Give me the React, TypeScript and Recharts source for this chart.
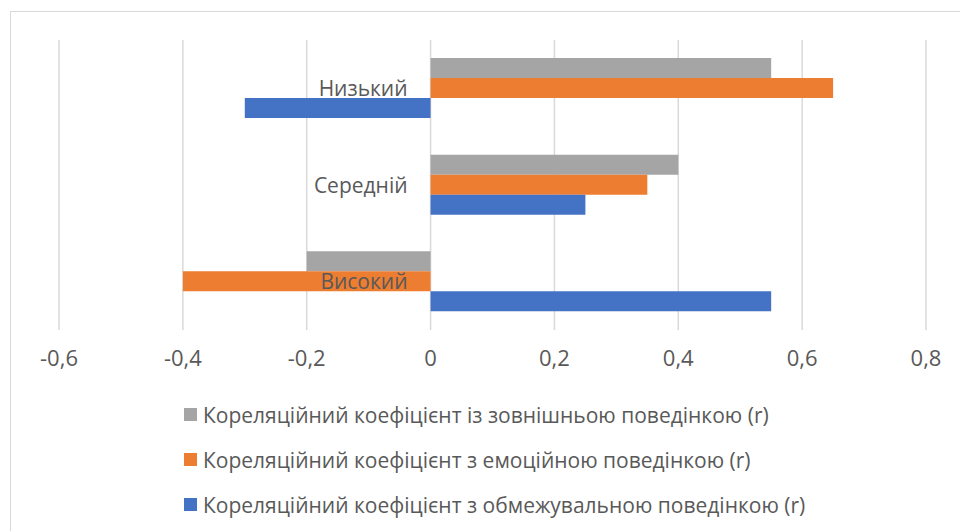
import React from 'react';
import { BarChart, Bar, XAxis, YAxis, CartesianGrid, Legend } from 'recharts';

const categories = ['Низький', 'Середній', 'Високий'];
const externalValues = [0.55, 0.4, -0.2];
const emotionalValues = [0.65, 0.35, -0.4];
const restrainedValues = [-0.3, 0.25, 0.55];
const xTicks = [-0.6, -0.4, -0.2, 0, 0.2, 0.4, 0.6, 0.8];

const seriesNames = [
  'Кореляційний коефіцієнт із зовнішньою поведінкою (r)',
  'Кореляційний коефіцієнт з емоційною поведінкою (r)',
  'Кореляційний коефіцієнт з обмежувальною поведінкою (r)',
];
const seriesKeys = ['external', 'emotional', 'restrained'];
const seriesColors = ['#a5a5a5', '#ed7d31', '#4472c4'];

const data = categories.map((c, i) => ({
  name: c,
  external: externalValues[i],
  emotional: emotionalValues[i],
  restrained: restrainedValues[i],
}));

const W = 960;
const H = 531;
const M = { top: 40, right: 34, bottom: 161, left: 58 };
const XMIN = -0.6;
const XMAX = 0.8;
const FONT = 'Open Sans, sans-serif';
const TEXT = '#595959';

const plotW = W - M.left - M.right - 1;
const zeroX = M.left + 1 + ((0 - XMIN) / (XMAX - XMIN)) * plotW;

const fmt = (v: number) => (v === 0 ? '0' : v.toFixed(1).replace('.', ','));

const renderCategoryTick = (props: any) => {
  const { y, payload } = props;
  return (
    <text x={zeroX - 23} y={y} dy="0.36em" textAnchor="end" fill={TEXT} fontSize={21} fontFamily={FONT}>
      {payload.value}
    </text>
  );
};

const LegendContent = () => (
  <div style={{ fontFamily: FONT, fontSize: 21, color: TEXT, whiteSpace: 'nowrap' }}>
    {seriesNames.map((n, i) => (
      <div key={n} style={{ display: 'flex', alignItems: 'center', height: 45 }}>
        <span style={{ display: 'inline-block', width: 13, height: 13, background: seriesColors[i], marginRight: 6 }} />
        <span>{n}</span>
      </div>
    ))}
  </div>
);

export default function App() {
  return (
    <div style={{ position: 'absolute', left: 0, top: 0, width: W, height: H, background: '#fff', overflow: 'hidden' }}>
      <div style={{ position: 'absolute', left: 10, top: 11, width: 980, height: 560, border: '1.5px solid #d9d9d9' }} />
      <BarChart
        width={W}
        height={H}
        data={data}
        layout="vertical"
        margin={M}
        barSize={20}
        barGap={0}
      >
        <CartesianGrid horizontal={false} stroke="#d9d9d9" strokeWidth={1.5} />
        <XAxis
          type="number"
          domain={[XMIN, XMAX]}
          ticks={xTicks}
          tickFormatter={fmt}
          axisLine={false}
          tickLine={false}
          height={40}
          tickMargin={14}
          tick={{ fill: TEXT, fontSize: 22, fontFamily: FONT }}
          interval={0}
        />
        <YAxis type="category" dataKey="name" width={1} axisLine={false} tickLine={false} tick={renderCategoryTick} interval={0} />
        {seriesKeys.map((k, i) => (
          <Bar key={k} dataKey={k} name={seriesNames[i]} fill={seriesColors[i]} isAnimationActive={false} />
        ))}
        <Legend
          layout="vertical"
          align="center"
          verticalAlign="middle"
          content={<LegendContent />}
          wrapperStyle={{ top: 392, left: 184, width: 'auto', height: 'auto' }}
        />
      </BarChart>
    </div>
  );
}
